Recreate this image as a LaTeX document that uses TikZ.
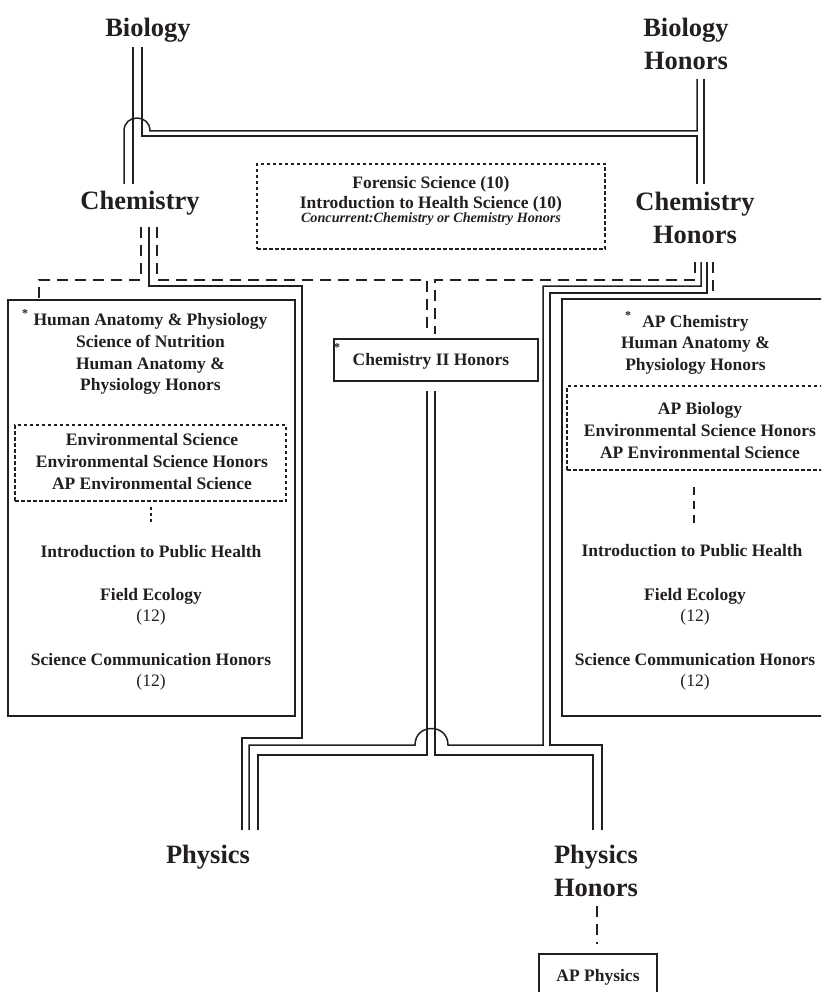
\documentclass[tikz,border=0pt]{standalone}
\usepackage{fontspec}
\setmainfont{Liberation Serif}
\definecolor{ink}{HTML}{231F20}
\tikzset{
  pipe/.style={draw=ink, line width=1.5pt},
  dashconn/.style={draw=ink, line width=1.4pt, dash pattern=on 11pt off 7pt},
  dotconn/.style={draw=ink, line width=2pt, dash pattern=on 3pt off 3pt},
  boxframe/.style={draw=ink, line width=1.8pt, inner sep=0pt},
  dotframe/.style={draw=ink, line width=2.3pt, dash pattern=on 3.5pt off 2.5pt, inner sep=0pt},
  ttl/.style={font=\fontsize{26.5}{32.5}\selectfont\bfseries, text=ink, align=center, inner sep=0pt},
  itm/.style={font=\fontsize{17.5}{21.7}\selectfont\bfseries, text=ink, align=center, inner sep=0pt},
  nt/.style={font=\fontsize{14.2}{15}\selectfont\bfseries\itshape, text=ink, inner sep=0pt},
  star/.style={font=\fontsize{12}{12}\selectfont\bfseries, text=ink, inner sep=0pt},
}
\begin{document}
\begin{tikzpicture}[x=1pt,y=-1pt]
\useasboundingbox (0,0) rectangle (821,992);
\clip (0,0) rectangle (821,992);
\fill[white] (0,0) rectangle (821,992);

% titles
\node[ttl] (bio) at (148,30.6) {Biology};
\node[ttl] (bioh) at (686,44) {Biology\\Honors};
\node[ttl] (chem) at (140,203.6) {Chemistry};
\node[ttl] (chemh) at (695,218) {Chemistry\\Honors};
\node[ttl] (phys) at (208,857.6) {Physics};
\node[ttl] (physh) at (596,871) {Physics\\Honors};

% boxes
\node[boxframe, minimum width=287pt, minimum height=416pt] (lbox) at (151.5,508) {};
\node[boxframe, minimum width=290pt, minimum height=417pt] (rbox) at (707,507.5) {};
\node[dotframe, minimum width=271pt, minimum height=76pt] (ldot) at (150.5,463) {};
\node[dotframe, minimum width=290pt, minimum height=84pt] (rdot) at (712,428) {};
\node[dotframe, minimum width=348pt, minimum height=85pt] (fbox) at (431,206.5) {};
\node[boxframe, minimum width=204pt, minimum height=42pt] (c2box) at (436,360) {};
\node[boxframe, itm, minimum width=118pt, minimum height=46pt] (apphys) at (598,977) {AP Physics};

% forensic texts
\node[itm] (f1) at (431,183.8) {Forensic Science (10)};
\node[itm] (f2) at (431,203.8) {Introduction to Health Science (10)};
\node[nt] (f3) at (431,219.5) {Concurrent:Chemistry or Chemistry Honors};

% chem II
\node[itm] (c2) at (431,361.8) {Chemistry II Honors};
\node[star] (c2s) at (337,348) {*};

% left box texts
\node[star] (l1s) at (25,314) {*};
\node[itm] (l1) at (150.5,354.3) {Human Anatomy \& Physiology\\Science of Nutrition\\Human Anatomy \&\\Physiology Honors};
\node[itm] (l2) at (152,461.4) {Environmental Science\\Environmental Science Honors\\AP Environmental Science};
\node[itm] (l3) at (151,552) {Introduction to Public Health};
\node[itm] (l4) at (151,606.8) {Field Ecology\\{\mdseries (12)}};
\node[itm] (l5) at (151,671.8) {Science Communication Honors\\{\mdseries (12)}};

% right box texts
\node[star] (r1s) at (628,316) {*};
\node[itm] (r1) at (695.5,344.8) {AP Chemistry\\Human Anatomy \&\\Physiology Honors};
\node[itm] (r2) at (700,430.4) {AP Biology\\Environmental Science Honors\\AP Environmental Science};
\node[itm] (r3) at (692,551) {Introduction to Public Health};
\node[itm] (r4) at (695,606.8) {Field Ecology\\{\mdseries (12)}};
\node[itm] (r5) at (695,671.8) {Science Communication Honors\\{\mdseries (12)}};

% Biology / Biology Honors -> Chemistry / Chemistry Honors
\draw[pipe] (133,47) -- (133,184);
\draw[pipe] (142,47) -- (142,136) -- (697,136) -- (697,184);
\draw[pipe] (124,184) -- (124,131) .. controls (124,113.7) and (150,113.7) .. (150,131) -- (697,131) -- (697,79);
\draw[pipe] (704,79) -- (704,184);

% Chemistry down
\draw[dashconn] (141,227) -- (141,280) -- (39,280) -- (39,298);
\draw[pipe] (149,227) -- (149,286) -- (302,286) -- (302,738) -- (242,738) -- (242,830);
\draw[dashconn] (157,227) -- (157,280) -- (427,280) -- (427,334);

% Chemistry Honors down
\draw[dashconn] (695,262) -- (695,280) -- (435,280) -- (435,334);
\draw[pipe] (701,262) -- (701,286) -- (543,286) -- (543,745) -- (448,745) .. controls (448,723) and (415,723) .. (415,745) -- (249,745) -- (249,830);
\draw[pipe] (707,262) -- (707,293) -- (550,293) -- (550,745) -- (602,745) -- (602,830);
\draw[dashconn] (713,262) -- (713,297);

% Chemistry II Honors down
\draw[pipe] (427,391) -- (427,755) -- (258,755) -- (258,830);
\draw[pipe] (435,391) -- (435,755) -- (593,755) -- (593,830);

% inside boxes
\draw[dotconn] (151,507) -- (151,525);
\draw[dashconn, dash pattern=on 8pt off 6pt] (694,487) -- (694,527);

% Physics Honors -> AP Physics
\draw[dashconn] (597,906) -- (597,944);
\end{tikzpicture}
\end{document}
